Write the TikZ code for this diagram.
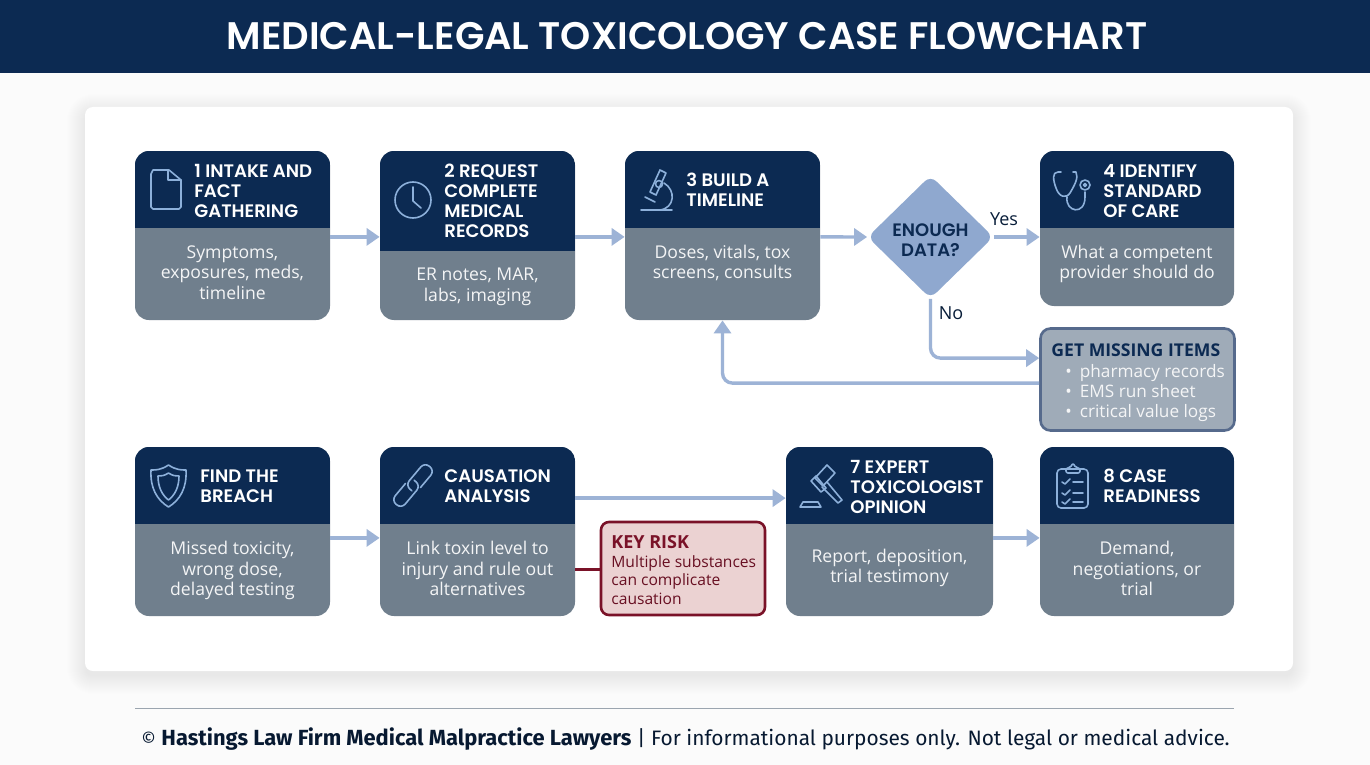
\documentclass[tikz,border=0pt]{standalone}
\usepackage{fontspec}
\setmainfont{Open Sans}
\newfontfamily\headfont{Poppins SemiBold}
\newfontfamily\footfont{Fira Sans}
\usetikzlibrary{arrows.meta,shapes.geometric}
\definecolor{navy}{HTML}{0C2A52}
\definecolor{slate}{HTML}{707F8D}
\definecolor{flowblue}{HTML}{9DB3D6}
\definecolor{diablue}{HTML}{8FA8CF}
\definecolor{iconblue}{HTML}{8DB0DA}
\definecolor{missfill}{HTML}{9FABB8}
\definecolor{missline}{HTML}{566A8C}
\definecolor{riskfill}{HTML}{EBD2D2}
\definecolor{riskline}{HTML}{7A1228}
\tikzset{
  card/.style={rounded corners=7pt, inner sep=0pt, fill=slate,
    path picture={\fill[navy, sharp corners] (path picture bounding box.north west) rectangle ([yshift=-#1]path picture bounding box.north east);}},
  headtext/.style={anchor=west, align=left, text=white, inner sep=0pt, font=\headfont\fontsize{9.05}{10}\selectfont},
  bodytext/.style={align=center, text=white!92!slate, inner sep=0pt, font=\fontsize{8.8}{10.2}\selectfont},
  flow/.style={draw=flowblue, line width=1.7pt, rounded corners=5pt, -{Triangle[length=6.5pt,width=8.5pt]}},
  icon/.style={draw=iconblue, line width=0.8pt, line join=round, line cap=round},
  branch/.style={inner sep=0pt, text=navy!70!black, font=\fontsize{9}{10}\selectfont}
}
\begin{document}
\begin{tikzpicture}[x=0.5pt,y=-0.5pt]
\useasboundingbox (0,0) rectangle (1370,765);
\fill[white!98.5!black] (0,0) rectangle (1370,765);
\fill[navy] (0,0) rectangle (1370,73);
\node[text=white, inner sep=0pt, font=\headfont\fontsize{19.2}{20}\selectfont] (title) at (687,36) {MEDICAL-LEGAL TOXICOLOGY CASE FLOWCHART};

\foreach \s in {0,1,...,18}
  \fill[black, opacity=0.005, rounded corners=4pt+0.5*\s] (85-\s,107-\s+5) rectangle (1293+\s,671+\s+5);
\node[fill=white, rounded corners=4pt, inner sep=0pt, minimum width=604pt, minimum height=282pt] (panel) at (689,389) {};

\node[card=38.5pt, minimum width=97.5pt, minimum height=84.5pt] (intake) at (232.5,235.5) {};
\node[card=50pt, minimum width=97.5pt, minimum height=84.5pt] (records) at (477.5,235.5) {};
\node[card=38.5pt, minimum width=97.5pt, minimum height=84.5pt] (timeline) at (722.5,235.5) {};
\node[card=38.5pt, minimum width=97pt, minimum height=77.5pt] (standard) at (1137,228.5) {};
\node[card=38.5pt, minimum width=97.5pt, minimum height=84.5pt] (breach) at (232.5,531.5) {};
\node[card=38.5pt, minimum width=97.5pt, minimum height=84.5pt] (cause) at (477.5,531.5) {};
\node[card=38.5pt, minimum width=103.5pt, minimum height=84.5pt] (expert) at (889.5,531.5) {};
\node[card=38.5pt, minimum width=97pt, minimum height=84.5pt] (ready) at (1137,531.5) {};

\node[diamond, aspect=1, fill=diablue, rounded corners=4pt, inner sep=0pt, minimum width=63pt, minimum height=61.5pt] (enough) at (930.5,237) {};
\node[draw=missline, line width=1.3pt, fill=missfill, rounded corners=5pt, inner sep=0pt, minimum width=97pt, minimum height=51pt] (missing) at (1137.5,379.5) {};
\node[draw=riskline, line width=1.3pt, fill=riskfill, rounded corners=4pt, inner sep=0pt, minimum width=82pt, minimum height=46.5pt] (risk) at (683,568.5) {};

\node[inner sep=0pt, text=navy, align=center, font=\headfont\fontsize{9}{10}\selectfont] (enoughtext) at (930.5,240) {ENOUGH\\DATA?};
\node[headtext] (intakehead) at (194,191) {1 INTAKE AND\\FACT\\GATHERING};
\node[headtext] (recordshead) at (444,201) {2 REQUEST\\COMPLETE\\MEDICAL\\RECORDS};
\node[headtext] (timelinehead) at (686,190) {3 BUILD A\\TIMELINE};
\node[headtext] (standardhead) at (1103,191) {4 IDENTIFY\\STANDARD\\OF CARE};
\node[headtext] (breachhead) at (200,486) {FIND THE\\BREACH};
\node[headtext] (causehead) at (444,486) {CAUSATION\\ANALYSIS};
\node[headtext] (experthead) at (850,487) {7 EXPERT\\TOXICOLOGIST\\OPINION};
\node[headtext] (readyhead) at (1103,486) {8 CASE\\READINESS};

\node[bodytext] (intakebody) at (232.5,272.5) {Symptoms,\\exposures, meds,\\timeline};
\node[bodytext] (recordsbody) at (477.5,287) {ER notes, MAR,\\labs, imaging};
\node[bodytext] (timelinebody) at (722.5,263) {Doses, vitals, tox\\screens, consults};
\node[bodytext] (standardbody) at (1137,264) {What a competent\\provider should do};
\node[bodytext] (breachbody) at (232.5,570.5) {Missed toxicity,\\wrong dose,\\delayed testing};
\node[bodytext] (causebody) at (477.5,568.5) {Link toxin level to\\injury and rule out\\alternatives};
\node[bodytext] (expertbody) at (889.5,568) {Report, deposition,\\trial testimony};
\node[bodytext] (readybody) at (1137,568.5) {Demand,\\negotiations, or\\trial};

\node[anchor=west, inner sep=0pt, text=navy, font=\bfseries\fontsize{8.8}{10}\selectfont] (misshead) at (1051,350) {GET MISSING ITEMS};
\node[anchor=west, align=left, inner sep=0pt, text=white!92!slate, font=\fontsize{8.6}{10.1}\selectfont] (misslist) at (1065,393) {•\hspace{4pt}pharmacy records\\•\hspace{4pt}EMS run sheet\\•\hspace{4pt}critical value logs};
\node[anchor=west, inner sep=0pt, text=riskline, font=\bfseries\fontsize{9}{10}\selectfont] (riskhead) at (611,542) {KEY RISK};
\node[anchor=west, align=left, inner sep=0pt, text=riskline!85!black, font=\fontsize{7.8}{9.3}\selectfont] (riskbody) at (611,580) {Multiple substances\\can complicate\\causation};
\node[branch] (yes) at (1004,219) {Yes};
\node[branch] (no) at (951,313) {No};

\draw[flow] ([yshift=-0.7pt]intake.east) -- ([yshift=-0.7pt]records.west);
\draw[flow] ([yshift=-0.7pt]records.east) -- ([yshift=-0.7pt]timeline.west);
\draw[flow] ([yshift=-0.7pt]timeline.east) -- (enough.west);
\draw[flow] (enough.east) -- (enough.east -| standard.west);
\draw[flow] (enough.south) |- ([yshift=10.7pt]missing.west);
\draw[flow] ([yshift=-1.8pt]missing.west) -| (timeline.south);
\draw[flow] ([yshift=-3.2pt]breach.east) -- ([yshift=-3.2pt]cause.west);
\draw[flow] ([yshift=16.7pt]cause.east) -- ([yshift=16.7pt]expert.west);
\draw[flow] ([yshift=-3.2pt]expert.east) -- ([yshift=-3.2pt]ready.west);
\draw[riskline, line width=1.5pt] ([yshift=-19pt]cause.east) -- ([yshift=-19pt]cause.east -| risk.west);

\draw[icon] (151,174) -- (151,207) -- (153,209) -- (179,209) -- (181,207) -- (181,180) -- (169,170) -- (153,170) -- cycle;
\draw[icon] (168,170) -- (168,180) -- (181,180);

\draw[icon] (413,200) circle (18);
\draw[icon] (413,187) -- (413,201) -- (421,208);

\draw[icon] (641,210) -- (672,210);
\draw[icon] (645,197) -- (655,202);
\draw[icon] (650,192) -- (660,170) -- (666,173) -- (656,195) -- cycle;
\draw[icon] (664,183) .. controls (676,190) and (675,208) .. (660,210);
\draw[icon] (659,184) circle (3.5);

\draw[icon] (1058,172) .. controls (1052,172) and (1053,180) .. (1056,188) .. controls (1059,197) and (1066,199) .. (1070,193) .. controls (1074,186) and (1079,178) .. (1076,172) (1058,172) -- (1061,172) (1076,172) -- (1073,172);
\draw[icon] (1067,197) .. controls (1065,212) and (1085,216) .. (1085,197) -- (1085,192);
\draw[icon] (1085,185) circle (5);
\draw[icon] (1085,185) circle (1.5);

\draw[icon] (168.5,465) .. controls (176,470) and (181,470) .. (186,470) .. controls (187,488) and (180,500) .. (168.5,507) .. controls (157,500) and (150,488) .. (151,470) .. controls (156,470) and (161,470) .. cycle;
\draw[icon] (168.5,473) .. controls (173,476) and (176,476) .. (179,476) .. controls (179,487) and (175,495) .. (168.5,500) .. controls (162,495) and (158,487) .. (158,476) .. controls (161,476) and (164,476) .. cycle;

\foreach \cx/\cy/\a in {420/478/50,406/493/230}
  \draw[icon, rounded corners=3pt, shift={(\cx,\cy)}, rotate=\a] (-7,6.5) -- (15,6.5) -- (15,-6.5) -- (-15,-6.5) -- (-15,2);

\draw[icon] (815,478) -- (827,465) -- (835,473) -- (823,486) -- cycle;
\draw[icon] (811,481) -- (816,476) -- (826,488) -- (821,492) -- cycle;
\draw[icon] (827,482) -- (842,500) -- (838,503) -- (822,487);
\draw[icon] (803,502) -- (818,502) -- (821,507) -- (800,507) -- cycle;

\draw[icon, rounded corners=2pt] (1057,469) rectangle (1088,508);
\draw[icon, rounded corners=1pt] (1066,473) -- (1066,468) -- (1070,468) -- (1073,463) -- (1076,468) -- (1080,468) -- (1080,473) -- cycle;
\foreach \y in {482,493,502} {
  \draw[icon] (1062,\y) -- (1065,\y+2) -- (1070,\y-3);
  \draw[icon] (1073,\y) -- (1083,\y);
}

\draw[draw=slate!70!white, line width=0.5pt] (135,708) -- (1234,708);
\node[inner sep=0pt, text=navy!60!black, font=\footfont\fontsize{10.45}{12}\selectfont] (footer) at (685.5,739) {{\fontsize{9}{12}\selectfont ©}\ {\fontsize{10.95}{12}\selectfont\bfseries Hastings Law Firm Medical Malpractice Lawyers} | For informational purposes only. Not legal or medical advice.};
\end{tikzpicture}
\end{document}
